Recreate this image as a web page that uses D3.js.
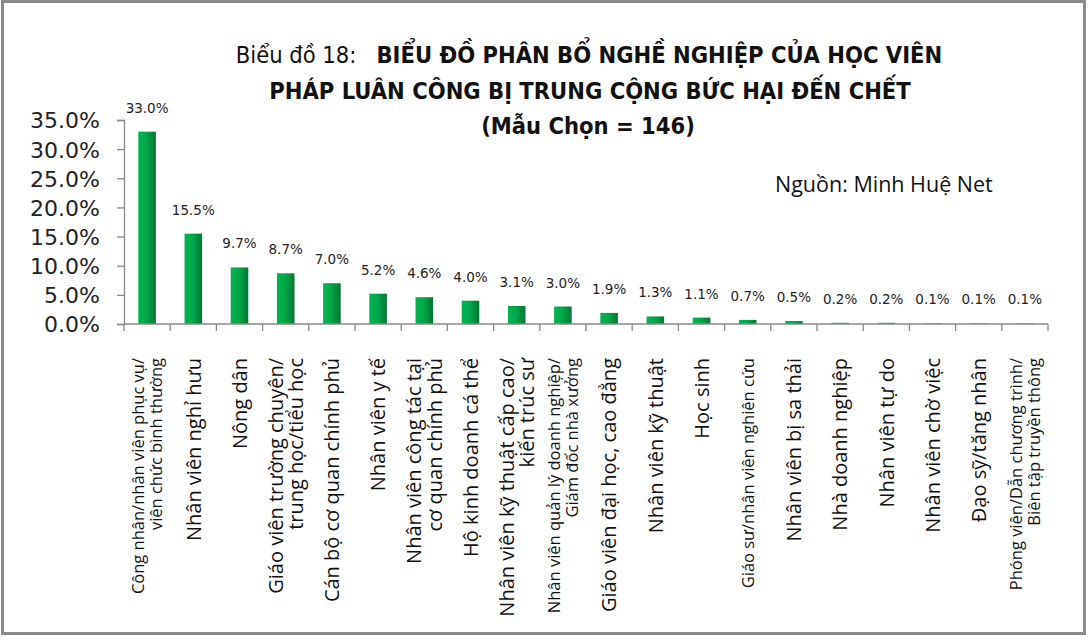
<!DOCTYPE html>
<html>
<head>
<meta charset="utf-8">
<script src="https://cdn.jsdelivr.net/npm/d3@7"></script>
<style>
  body { margin: 0; background: #fff; }
  svg { display: block; }
</style>
</head>
<body>
<div id="chart"></div>
<script>
var categories = [
    "Công nhân/nhân viên phục vụ/\nviên chức bình thường",
    "Nhân viên nghỉ hưu",
    "Nông dân",
    "Giáo viên trường chuyên/\ntrung học/tiểu học",
    "Cán bộ cơ quan chính phủ",
    "Nhân viên y tế",
    "Nhân viên công tác tại\ncơ quan chính phủ",
    "Hộ kinh doanh cá thể",
    "Nhân viên kỹ thuật cấp cao/\nkiến trúc sư",
    "Nhân viên quản lý doanh nghiệp/\nGiám đốc nhà xưởng",
    "Giáo viên đại học, cao đẳng",
    "Nhân viên kỹ thuật",
    "Học sinh",
    "Giáo sư/nhân viên nghiên cứu",
    "Nhân viên bị sa thải",
    "Nhà doanh nghiệp",
    "Nhân viên tự do",
    "Nhân viên chờ việc",
    "Đạo sỹ/tăng nhân",
    "Phóng viên/Dẫn chương trình/\nBiên tập truyền thông"
];
var values = [33.0, 15.5, 9.7, 8.7, 7.0, 5.2, 4.6, 4.0, 3.1, 3.0, 1.9, 1.3, 1.1, 0.7, 0.5, 0.2, 0.2, 0.1, 0.1, 0.1];
var yTicks = [0, 5, 10, 15, 20, 25, 30, 35];
var titleLead = "Biểu đồ 18:";
var titleLines = [
    "BIỂU ĐỒ PHÂN BỔ NGHỀ NGHIỆP CỦA HỌC VIÊN",
    "PHÁP LUÂN CÔNG BỊ TRUNG CỘNG BỨC HẠI ĐẾN CHẾT",
    "(Mẫu Chọn = 146)"
];
var sourceText = "Nguồn: Minh Huệ Net";

var width = 1089, height = 640;
var margin = {top: 120, right: 41, bottom: 316, left: 124};

var svg = d3.select("#chart").append("svg")
    .attr("width", width)
    .attr("height", height);

// frame
svg.append("rect")
    .attr("x", 2.5).attr("y", 1.5)
    .attr("width", 1082).attr("height", 632)
    .attr("fill", "#fff")
    .attr("stroke", "#8a8a8a")
    .attr("stroke-width", 3);

var defs = svg.append("defs");
var grad = defs.append("linearGradient")
    .attr("id", "barGrad")
    .attr("x1", "0%").attr("x2", "100%").attr("y1", "0%").attr("y2", "0%");
grad.append("stop").attr("offset", "0%").attr("stop-color", "#00b451");
grad.append("stop").attr("offset", "45%").attr("stop-color", "#00a84a");
grad.append("stop").attr("offset", "100%").attr("stop-color", "#047533");

var x = d3.scaleBand()
    .domain(d3.range(categories.length))
    .range([margin.left, width - margin.right])
    .paddingInner(0.62)
    .paddingOuter(0.31);

var y = d3.scaleLinear()
    .domain([0, 35])
    .range([height - margin.bottom, margin.top]);

var condensed = "'Liberation Sans Narrow', 'DejaVu Sans Condensed', 'Arial Narrow', sans-serif";

// title
var title = svg.append("g").attr("font-family", condensed).attr("fill", "#111").attr("text-anchor", "middle");
var t1 = title.append("text").attr("x", 589).attr("y", 63).attr("font-size", 23.5);
t1.append("tspan").attr("font-weight", "normal").text(titleLead + "\u00a0\u00a0 ");
t1.append("tspan").attr("font-weight", "bold").text(titleLines[0]);
title.append("text").attr("x", 590).attr("y", 99).attr("font-size", 23.5).attr("font-weight", "bold").text(titleLines[1]);
title.append("text").attr("x", 588).attr("y", 134).attr("font-size", 23.5).attr("font-weight", "bold").text(titleLines[2]);

// source
svg.append("text")
    .attr("x", 775).attr("y", 192)
    .attr("font-family", "'Open Sans', 'Noto Sans', sans-serif")
    .attr("font-size", 21.5)
    .attr("fill", "#111")
    .text(sourceText);

// bars
svg.append("g").selectAll("rect")
    .data(values)
    .join("rect")
    .attr("x", function(d, i) { return x(i); })
    .attr("y", function(d) { return y(d); })
    .attr("width", x.bandwidth())
    .attr("height", function(d) { return y(0) - y(d); })
    .attr("fill", "url(#barGrad)");

// value labels
svg.append("g").selectAll("text")
    .data(values)
    .join("text")
    .attr("x", function(d, i) { return x(i) + x.bandwidth() / 2; })
    .attr("y", function(d) { return Math.min(y(d) - 19, y(0) - 19); })
    .attr("text-anchor", "middle")
    .attr("font-family", "'DejaVu Sans', Verdana, sans-serif")
    .attr("font-size", 13.5)
    .attr("fill", "#222")
    .text(function(d) { return d.toFixed(1) + "%"; });

// y axis
var yAxis = d3.axisLeft(y)
    .tickValues(yTicks)
    .tickSize(7)
    .tickPadding(17)
    .tickFormat(function(d) { return d.toFixed(1) + "%"; });
var gy = svg.append("g")
    .attr("transform", "translate(" + margin.left + ",0)")
    .call(yAxis);
gy.select(".domain").attr("stroke", "#8a8a8a").attr("stroke-width", 1.3);
gy.selectAll(".tick line").attr("stroke", "#8a8a8a").attr("stroke-width", 1.3);
gy.selectAll(".tick text")
    .attr("font-family", "'DejaVu Sans', Verdana, sans-serif")
    .attr("font-size", 22)
    .attr("fill", "#222")
    .attr("dy", "0.36em");

// x axis: ticks between categories
var step = x.step();
var xEdges = d3.range(categories.length + 1).map(function(i) { return margin.left + i * step; });
var gx = svg.append("g");
gx.append("line")
    .attr("x1", margin.left).attr("x2", width - margin.right)
    .attr("y1", y(0)).attr("y2", y(0))
    .attr("stroke", "#8a8a8a").attr("stroke-width", 1.3);
gx.selectAll("line.tick")
    .data(xEdges)
    .join("line")
    .attr("class", "tick")
    .attr("x1", function(d) { return d; }).attr("x2", function(d) { return d; })
    .attr("y1", y(0)).attr("y2", y(0) + 7)
    .attr("stroke", "#8a8a8a").attr("stroke-width", 1.3);

// category labels, rotated
var labels = svg.append("g")
    .attr("font-family", "'Open Sans', 'Noto Sans', sans-serif")
    .attr("fill", "#111");
categories.forEach(function(c, i) {
    var lines = c.split("\n");
    var longest = d3.max(lines, function(l) { return l.length; });
    var fs = longest > 27 ? 16.5 : 20;
    var lh = longest > 27 ? 17.5 : 20.5;
    var cx = x(i) + x.bandwidth() / 2;
    var t = labels.append("text")
        .attr("transform", "translate(" + cx + "," + 358 + ") rotate(-90)")
        .attr("text-anchor", "end")
        .attr("font-size", fs);
    lines.forEach(function(l, k) {
        t.append("tspan")
            .attr("x", 0)
            .attr("y", (k - (lines.length - 1) / 2) * lh)
            .attr("dy", "0.36em")
            .text(l);
    });
});
</script>
</body>
</html>
